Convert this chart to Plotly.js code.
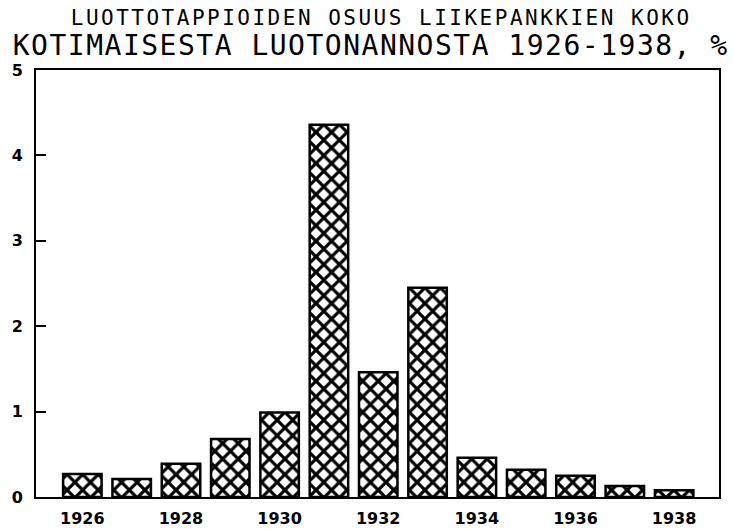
<!DOCTYPE html>
<html>
<head>
<meta charset="utf-8">
<script src="https://cdn.plot.ly/plotly-3.0.1.min.js"></script>
<style>
html,body{margin:0;padding:0;background:#fff;}
g.annotation[data-index="0"] text { letter-spacing: 2.5px; }
g.annotation[data-index="1"] text { letter-spacing: 1.5px; }
</style>
</head>
<body>
<div id="chart" style="width:734px;height:529px;"></div>
<script>
const years = [1926,1927,1928,1929,1930,1931,1932,1933,1934,1935,1936,1937,1938];
const lossShare = [0.27,0.21,0.39,0.68,0.99,4.36,1.46,2.45,0.46,0.32,0.25,0.13,0.08];
const xTickVals = [1926,1928,1930,1932,1934,1936,1938];
const xTickText = ['1926','1928','1930','1932','1934','1936','1938'];
const yTickVals = [0,1,2,3,4,5];
const yTickText = ['0','1','2','3','4','5'];
const titleLine1 = 'LUOTTOTAPPIOIDEN OSUUS LIIKEPANKKIEN KOKO';
const titleLine2 = 'KOTIMAISESTA LUOTONANNOSTA 1926-1938, %';

const trace = {
  type: 'bar',
  x: years,
  y: lossShare,
  width: 0.78,
  marker: {
    color: '#ffffff',
    line: {color: '#000000', width: 2.5},
    pattern: {shape: 'x', fgcolor: '#000000', fgopacity: 1, bgcolor: '#ffffff', size: 11, solidity: 0.5, fillmode: 'overlay'}
  },
  hoverinfo: 'x+y'
};

const layout = {
  width: 734, height: 529,
  margin: {l: 36, r: 15, t: 70, b: 32},
  paper_bgcolor: '#ffffff', plot_bgcolor: '#ffffff',
  showlegend: false,
  font: {family: 'DejaVu Sans', color: '#000000'},
  xaxis: {
    range: [1925.06, 1938.91],
    tickvals: xTickVals, ticktext: xTickText,
    ticks: '', showgrid: false, zeroline: false,
    showline: true, mirror: true, linecolor: '#000000', linewidth: 2,
    ticklabelstandoff: 6,
    tickfont: {family: 'DejaVu Sans', size: 16, weight: 'bold', color: '#000'}
  },
  yaxis: {
    range: [0, 5],
    tickvals: yTickVals, ticktext: yTickText,
    ticks: 'inside', ticklen: 10, tickwidth: 2, tickcolor: '#000',
    showgrid: false, zeroline: false,
    showline: true, mirror: true, linecolor: '#000000', linewidth: 2,
    ticklabelstandoff: 8,
    tickfont: {family: 'DejaVu Sans', size: 16, weight: 'bold', color: '#000'}
  },
  annotations: [
    {text: titleLine1, xref: 'paper', yref: 'paper', x: 0.505, y: 1, yshift: 52, xanchor: 'center', yanchor: 'middle',
     showarrow: false, font: {family: 'DejaVu Sans Mono', size: 21, color: '#000'}},
    {text: titleLine2, xref: 'paper', yref: 'paper', x: 0.49, y: 1, yshift: 25, xanchor: 'center', yanchor: 'middle',
     showarrow: false, font: {family: 'DejaVu Sans Mono', size: 28, color: '#000'}}
  ]
};

Plotly.newPlot('chart', [trace], layout, {displayModeBar: false, staticPlot: true});
</script>
</body>
</html>
